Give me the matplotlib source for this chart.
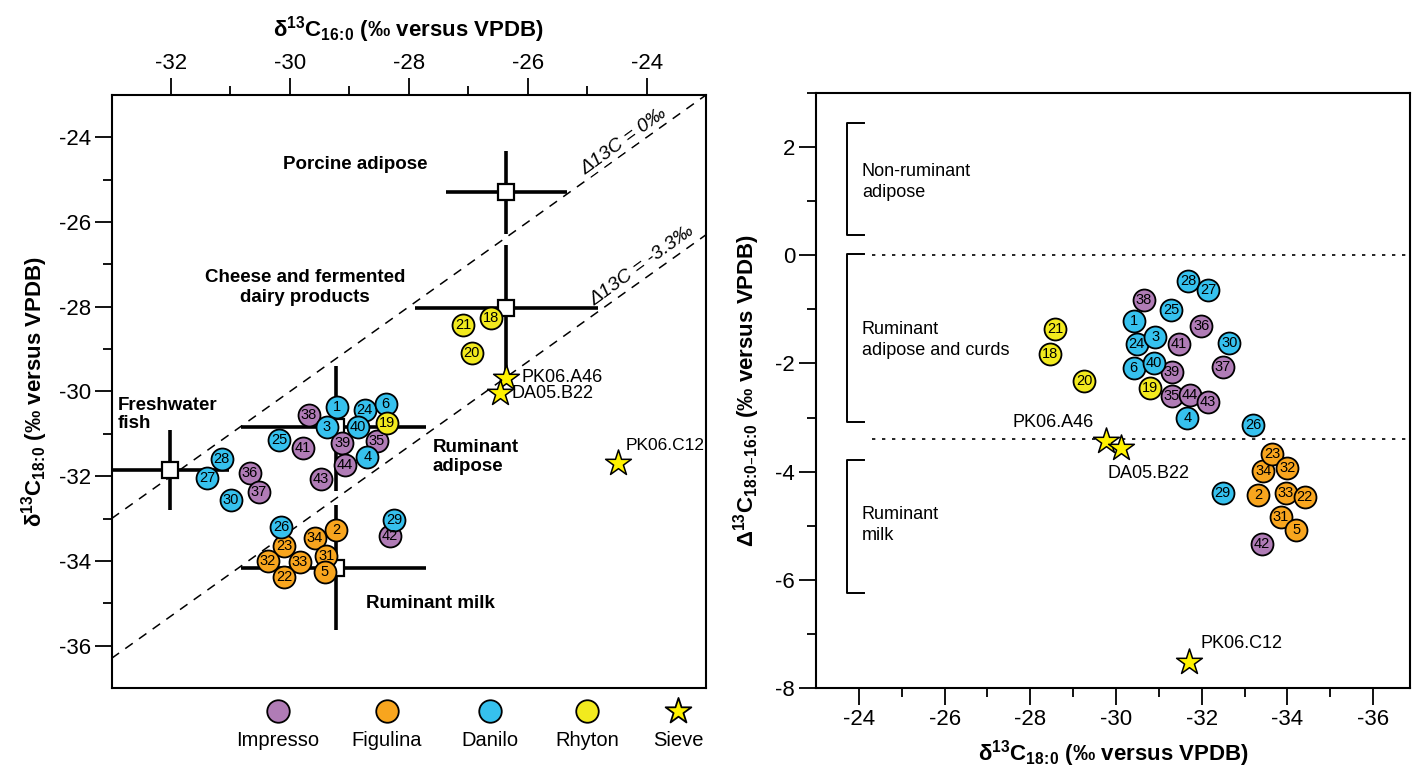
import matplotlib
matplotlib.use("Agg")
import matplotlib.pyplot as plt
from matplotlib.ticker import FixedLocator

plt.rcParams['font.family'] = ['Liberation Sans', 'DejaVu Sans']
plt.rcParams['mathtext.default'] = 'regular'
plt.rcParams['axes.unicode_minus'] = False

# ── data ────────────────────────────────────────────────────────────────────
# left panel: delta13C 16:0 (x) vs delta13C 18:0 (y), per sample number
imp_ids = [38, 39, 41, 35, 44, 43, 36, 37, 42]
imp_d16 = [-29.68, -29.12, -29.78, -28.54, -29.07, -29.48, -30.67, -30.52, -28.32]
imp_d18 = [-30.56, -31.21, -31.34, -31.16, -31.74, -32.06, -31.92, -32.38, -33.42]

dan_ids = [1, 24, 6, 3, 40, 25, 4, 28, 27, 30, 26, 29]
dan_d16 = [-29.21, -28.74, -28.39, -29.38, -28.86, -30.18, -28.70, -31.15, -31.39, -30.99, -30.15, -28.25]
dan_d18 = [-30.37, -30.44, -30.30, -30.84, -30.84, -31.14, -31.55, -31.60, -32.04, -32.57, -33.21, -33.03]

rhy_ids = [19, 21, 18, 20]
rhy_d16 = [-28.37, -27.09, -26.61, -26.94]
rhy_d18 = [-30.74, -28.43, -28.27, -29.10]

fig_ids = [2, 34, 23, 31, 32, 33, 22, 5]
fig_d16 = [-29.22, -29.58, -30.10, -29.39, -30.37, -29.83, -30.10, -29.41]
fig_d18 = [-33.28, -33.47, -33.65, -33.88, -34.00, -34.02, -34.39, -34.25]

sieve_ids = ["PK06.A46", "DA05.B22", "PK06.C12"]
sieve_d16 = [-26.36, -26.47, -24.48]
sieve_d18 = [-29.68, -30.03, -31.69]

# reference ranges (mean, -err, +err) on both axes
ref_x    = [-26.36, -26.36, -32.02, -29.22, -29.22]
ref_xlo  = [1.02, 1.53, 1.00, 1.61, 1.61]
ref_xhi  = [1.02, 1.54, 1.00, 1.51, 1.51]
ref_y    = [-25.30, -28.02, -31.85, -30.84, -34.16]
ref_ylo  = [0.98, 1.59, 0.94, 1.52, 1.47]
ref_yhi  = [0.98, 1.48, 0.94, 1.44, 1.47]

# right panel: delta13C 18:0 (x) vs Delta13C 18:0-16:0 (y)
imp_r_x = [-30.65, -31.30, -31.47, -31.30, -31.72, -32.15, -31.99, -32.49, -33.41]
imp_r_y = [-0.82, -2.15, -1.64, -2.60, -2.59, -2.71, -1.30, -2.07, -5.33]

dan_r_x = [-30.42, -30.48, -30.41, -30.92, -30.88, -31.28, -31.66, -31.68, -32.15, -32.64, -33.20, -32.49]
dan_r_y = [-1.21, -1.64, -2.09, -1.52, -2.00, -1.02, -3.01, -0.47, -0.65, -1.62, -3.14, -4.39]

rhy_r_x = [-30.79, -28.58, -28.47, -29.26]
rhy_r_y = [-2.45, -1.36, -1.82, -2.32]

fig_r_x = [-33.31, -33.44, -33.64, -33.85, -34.00, -33.96, -34.40, -34.20]
fig_r_y = [-4.44, -3.99, -3.67, -4.83, -3.93, -4.39, -4.46, -5.07]

sieve_r_x = [-29.77, -30.12, -31.70]
sieve_r_y = [-3.43, -3.57, -7.52]

groups = ["Impresso", "Figulina", "Danilo", "Rhyton", "Sieve"]
colors = {"Impresso": "#b07cb6", "Figulina": "#f8a51e",
          "Danilo": "#36c1ee", "Rhyton": "#f2ea1e", "Sieve": "#fff200"}

CIRC = 250
STAR = 380


def draw_points(ax, xs, ys, ids, color):
    for x, y, n in zip(xs, ys, ids):
        ax.scatter(x, y, s=CIRC, c=color, edgecolors="black", linewidths=1.3,
                   zorder=5)
        ax.text(x, y, str(n), ha="center", va="center", fontsize=10.5,
                zorder=6)


def style_ticks(ax):
    ax.tick_params(which="major", direction="out", length=12, width=1.3,
                   labelsize=16, pad=3)
    ax.tick_params(which="minor", direction="out", length=6.5, width=1.3)
    for s in ax.spines.values():
        s.set_linewidth(1.5)


fig = plt.figure(figsize=(14.16, 7.76), dpi=100)

# ── left panel ──────────────────────────────────────────────────────────────
ax1 = fig.add_axes([0.0788, 0.1134, 0.4198, 0.7642])
ax1.set_xlim(-33, -23)
ax1.set_ylim(-37, -23)
ax1.xaxis.tick_top()
ax1.xaxis.set_label_position("top")
ax1.set_xticks(range(-32, -23, 2))
ax1.xaxis.set_minor_locator(FixedLocator([-31, -29, -27, -25]))
ax1.set_yticks(range(-36, -23, 2))
ax1.yaxis.set_minor_locator(FixedLocator([-35, -33, -31, -29, -27, -25]))
style_ticks(ax1)

ax1.set_xlabel(r"δ$^{13}$C$_{16\!:\!0}$ (‰ versus VPDB)", fontsize=16,
               fontweight="bold", labelpad=12)
ax1.set_ylabel(r"δ$^{13}$C$_{18\!:\!0}$ (‰ versus VPDB)", fontsize=16,
               fontweight="bold", labelpad=6)

# isotope lines
lx = [-33, -23]
ax1.plot(lx, lx, ls=(0, (6, 5)), color="black", lw=1.1, zorder=1)
ax1.plot(lx, [v - 3.3 for v in lx], ls=(0, (6, 5)), color="black", lw=1.1,
         zorder=1)
ax1.text(-24.3, -24.25, "Δ13C = 0‰", rotation=36, rotation_mode="anchor",
         ha="center", va="bottom", fontsize=14, style="italic",
         bbox=dict(fc="white", ec="none", pad=0.5), zorder=2)
ax1.text(-24.0, -27.2, "Δ13C = -3.3‰", rotation=36, rotation_mode="anchor",
         ha="center", va="bottom", fontsize=14, style="italic",
         bbox=dict(fc="white", ec="none", pad=0.5), zorder=2)

# reference crosses
for x, xl, xh, y, yl, yh in zip(ref_x, ref_xlo, ref_xhi, ref_y, ref_ylo, ref_yhi):
    ax1.errorbar(x, y, xerr=[[xl], [xh]], yerr=[[yl], [yh]], fmt="s",
                 ms=11, mfc="white", mec="black", mew=1.6, ecolor="black",
                 elinewidth=2.6, capsize=0, zorder=3)

ax1.text(-28.9, -24.65, "Porcine adipose", ha="center", va="center",
         fontsize=13.5, fontweight="bold")
ax1.text(-29.75, -27.55, "Cheese and fermented\ndairy products", ha="center",
         va="center", fontsize=13.5, fontweight="bold", linespacing=1.2)
ax1.text(-32.9, -30.55, "Freshwater\nfish", ha="left", va="center",
         fontsize=13.5, fontweight="bold", linespacing=1.1)
ax1.text(-27.6, -31.55, "Ruminant\nadipose", ha="left", va="center",
         fontsize=13.5, fontweight="bold", linespacing=1.1)
ax1.text(-28.72, -35.0, "Ruminant milk", ha="left", va="center",
         fontsize=13.5, fontweight="bold")

draw_points(ax1, imp_d16, imp_d18, imp_ids, colors["Impresso"])
draw_points(ax1, fig_d16, fig_d18, fig_ids, colors["Figulina"])
draw_points(ax1, dan_d16, dan_d18, dan_ids, colors["Danilo"])
draw_points(ax1, rhy_d16, rhy_d18, rhy_ids, colors["Rhyton"])
ax1.scatter(sieve_d16, sieve_d18, s=STAR, marker="*", c=colors["Sieve"],
            edgecolors="black", linewidths=1.1, zorder=7)
ax1.text(-26.1, -29.68, "PK06.A46", ha="left", va="center", fontsize=13)
ax1.text(-26.28, -30.05, "DA05.B22", ha="left", va="center", fontsize=13)
ax1.text(-24.36, -31.27, "PK06.C12", ha="left", va="center", fontsize=12.5)

# legend below the left panel
leg_x = [278, 387, 490, 587, 678]
for gx, g in zip(leg_x, groups):
    fx = gx / 1416
    marker = "*" if g == "Sieve" else "o"
    size = STAR if g == "Sieve" else CIRC * 1.05
    ax1.scatter([fx], [1 - 711 / 776], s=size, marker=marker, c=colors[g],
                edgecolors="black", linewidths=1.3, transform=fig.transFigure,
                clip_on=False, zorder=8)
    fig.text(fx, 1 - 741 / 776, g, ha="center", va="center", fontsize=14.5)

# ── right panel ─────────────────────────────────────────────────────────────
ax2 = fig.add_axes([0.5763, 0.1134, 0.4195, 0.7668])
ax2.set_xlim(-23, -36.86)
ax2.set_ylim(-8, 3)
ax2.set_xticks(range(-24, -37, -2))
ax2.xaxis.set_minor_locator(FixedLocator([-25, -27, -29, -31, -33, -35]))
ax2.set_yticks(range(-8, 3, 2))
ax2.yaxis.set_minor_locator(FixedLocator([-7, -5, -3, -1, 1, 3]))
style_ticks(ax2)
ax2.set_xlabel(r"δ$^{13}$C$_{18\!:\!0}$ (‰ versus VPDB)", fontsize=16,
               fontweight="bold", labelpad=6)
ax2.set_ylabel(r"Δ$^{13}$C$_{18\!:\!0–16\!:\!0}$ (‰ versus VPDB)", fontsize=16,
               fontweight="bold", labelpad=10)

# dotted thresholds
ax2.plot([-24.3, -36.86], [0, 0], ls=(0, (2, 4)), color="black", lw=1.2,
         zorder=1)
ax2.plot([-24.3, -36.86], [-3.4, -3.4], ls=(0, (2, 4)), color="black",
         lw=1.2, zorder=1)

# brackets
brackets = [(2.44, 0.37), (0.02, -3.08), (-3.78, -6.24)]
for top, bot in brackets:
    ax2.plot([-24.12, -23.72, -23.72, -24.12], [top, top, bot, bot],
             color="black", lw=1.4, zorder=1)
ax2.text(-24.07, 1.35, "Non-ruminant\nadipose", ha="left", va="center",
         fontsize=13, linespacing=1.3)
ax2.text(-24.07, -1.56, "Ruminant\nadipose and curds", ha="left",
         va="center", fontsize=13, linespacing=1.3)
ax2.text(-24.07, -4.98, "Ruminant\nmilk", ha="left", va="center",
         fontsize=13, linespacing=1.3)

draw_points(ax2, imp_r_x, imp_r_y, imp_ids, colors["Impresso"])
draw_points(ax2, fig_r_x, fig_r_y, fig_ids, colors["Figulina"])
draw_points(ax2, dan_r_x, dan_r_y, dan_ids, colors["Danilo"])
draw_points(ax2, rhy_r_x, rhy_r_y, rhy_ids, colors["Rhyton"])
ax2.scatter(sieve_r_x, sieve_r_y, s=STAR, marker="*", c=colors["Sieve"],
            edgecolors="black", linewidths=1.1, zorder=7)
ax2.text(-29.49, -3.09, "PK06.A46", ha="right", va="center", fontsize=13)
ax2.text(-29.79, -4.04, "DA05.B22", ha="left", va="center", fontsize=13)
ax2.text(-31.96, -7.17, "PK06.C12", ha="left", va="center", fontsize=13)

fig.savefig("out.png", dpi=100)
